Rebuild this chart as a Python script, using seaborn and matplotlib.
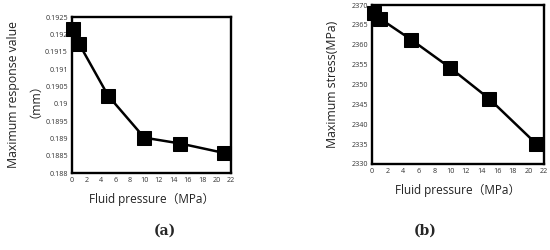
import matplotlib
matplotlib.use("Agg")
import matplotlib.pyplot as plt
import seaborn as sns
import numpy as np

# data
pressure = [0.2, 1, 5, 10, 15, 21]
response = [0.19215, 0.19172, 0.19023, 0.18902, 0.18885, 0.18858]
stress = [2368.0, 2366.6, 2361.3, 2354.2, 2346.4, 2335.1]

sns.set_theme(style="white")
plt.rcParams["font.family"] = ["Open Sans", "Noto Sans CJK SC", "DejaVu Sans"]

fig = plt.figure(figsize=(5.5, 2.5), dpi=100)
ax1 = fig.add_axes([72/550, 1 - 173/250, 159/550, 156/250])
ax2 = fig.add_axes([372/550, 1 - 164/250, 172/550, 159/250])

for ax, yv in [(ax1, response), (ax2, stress)]:
    sns.lineplot(x=pressure, y=yv, ax=ax, color="black", linewidth=1.8,
                 marker="s", markersize=9.5, markeredgecolor="black", clip_on=False)
    ax.set_xlim(0, 22)
    ax.set_xticks(np.arange(0, 23, 2))
    ax.tick_params(direction="in", length=2.5, width=0.8, labelsize=5.2, pad=3,
                   colors="black", labelcolor="#333333")
    for s in ax.spines.values():
        s.set_color("black")
        s.set_linewidth(1.7)
    ax.set_xlabel("Fluid pressure（MPa）", fontsize=8.5, labelpad=6, color="#222222")

ax1.set_ylim(0.188, 0.1925)
ax1.set_yticks([0.188, 0.1885, 0.189, 0.1895, 0.19, 0.1905, 0.191, 0.1915, 0.192, 0.1925])
ax1.set_yticklabels(["0.188", "0.1885", "0.189", "0.1895", "0.19", "0.1905",
                     "0.191", "0.1915", "0.192", "0.1925"])
ax1.set_ylabel("Maximum response value\n（mm）", fontsize=8.8, labelpad=7, color="#222222")

ax2.set_ylim(2330, 2370)
ax2.set_yticks(np.arange(2330, 2371, 5))
ax2.set_ylabel("Maximum stress(MPa)", fontsize=8.8, labelpad=9, color="#222222")

fig.text(165/550, 1 - 231/250, "(a)", fontsize=10, fontweight="bold",
         family="DejaVu Serif", ha="center", va="center")
fig.text(425/550, 1 - 231/250, "(b)", fontsize=10, fontweight="bold",
         family="DejaVu Serif", ha="center", va="center")

fig.savefig("out.png", dpi=100)
